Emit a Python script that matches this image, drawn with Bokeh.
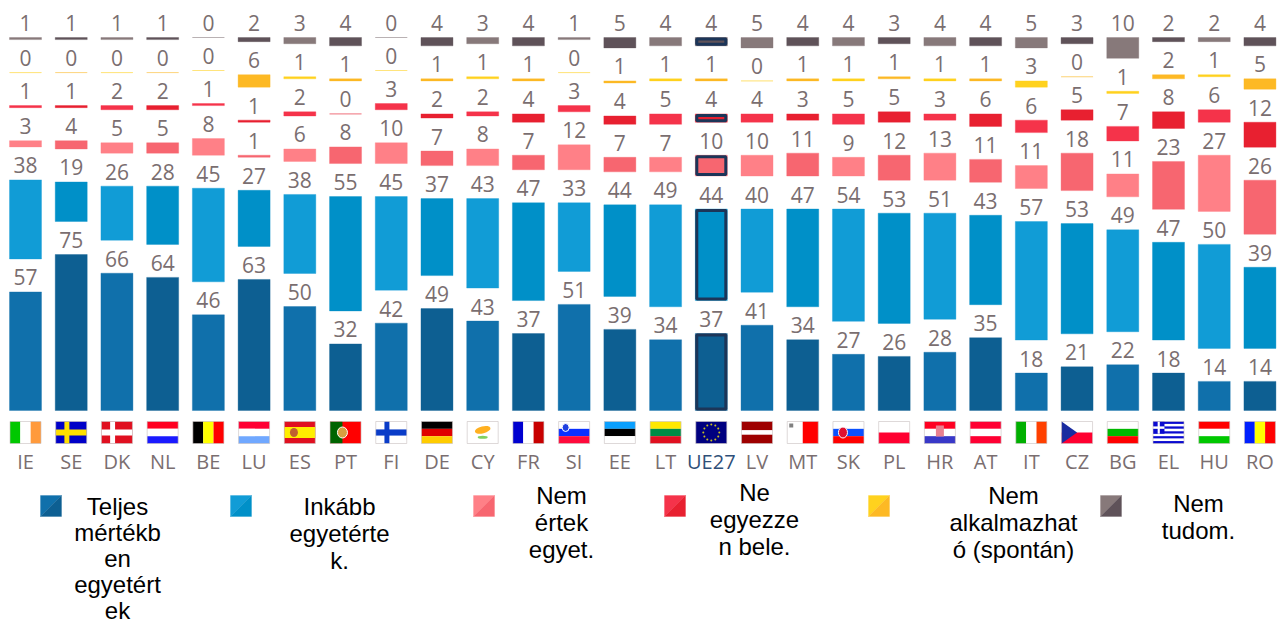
import numpy as np
from bokeh.plotting import figure
from bokeh.models import ColumnDataSource, Range1d
from bokeh.core.properties import value
from bokeh.embed import file_html
from bokeh.resources import INLINE

countries = ["IE","SE","DK","NL","BE","LU","ES","PT","FI","DE","CY","FR","SI","EE","LT","UE27",
             "LV","MT","SK","PL","HR","AT","IT","CZ","BG","EL","HU","RO"]
teljes   = [57,75,66,64,46,63,50,32,42,49,43,37,51,39,34,37,41,34,27,26,28,35,18,21,22,18,14,14]
inkabb   = [38,19,26,28,45,27,38,55,45,37,43,47,33,44,49,44,40,47,54,53,51,43,57,53,49,47,50,39]
nem_ert  = [3,4,5,5,8,1,6,8,10,7,8,7,12,7,7,10,10,11,9,12,13,11,11,18,11,23,27,26]
ne_egy   = [1,1,2,2,1,1,2,0,3,2,2,4,3,4,5,4,4,3,5,5,3,6,6,5,7,8,6,12]
nem_alk  = [0,0,0,0,0,6,1,1,0,1,1,1,0,1,1,1,0,1,1,1,1,1,3,0,1,2,1,5]
nem_tud  = [1,1,1,1,0,2,3,4,0,4,3,4,1,5,4,4,5,4,4,3,4,4,5,3,10,2,2,4]
series = [teljes, inkabb, nem_ert, ne_egy, nem_alk, nem_tud]
light = ["#1070ab","#119cd6","#ff8087","#f5334a","#ffd21e","#87797a"]
dark  = ["#0d5f92","#0090c8","#f76670","#e82030","#fdb924","#5f5259"]
legend_lines = [["Teljes","mértékb","en","egyetért","ek"],["Inkább","egyetérte","k."],
                ["Nem","értek","egyet."],["Ne","egyezze","n bele."],
                ["Nem","alkalmazhat","ó (spontán)"],["Nem","tudom."]]

W, H = 1277, 625
STEP, X0, BARW = 45.72, 25.0, 32.0     # pixels
UNIT, BASE, GAP = 2.08, 410.0, 33.0    # px per value unit, baseline px, px between stacked bars
gap_u = GAP / UNIT

p = figure(width=W, height=H, output_backend="svg", toolbar_location=None,
           x_range=Range1d(-X0 / STEP, (W - X0) / STEP),
           y_range=Range1d((BASE - H) / UNIT, BASE / UNIT),
           min_border=0, outline_line_color=None, background_fill_color="white",
           border_fill_color="white")
p.axis.visible = False
p.grid.visible = False
p.extra_x_ranges["px"] = Range1d(0, W)
p.extra_y_ranges["px"] = Range1d(H, 0)
PX = dict(x_range_name="px", y_range_name="px")

xs = np.arange(len(countries))
cum = np.zeros(len(countries))
FONT = value("Open Sans")
idx = countries.index("UE27")
for k, vals in enumerate(series):
    v = np.array(vals, float)
    bot = cum + k * gap_u
    top = bot + v
    cols = [light[k] if i % 2 == 0 else dark[k] for i in xs]
    src = ColumnDataSource(dict(x=xs, bot=bot, top=top, c=cols, lab=[str(a) for a in vals]))
    p.vbar(x="x", bottom="bot", top="top", width=BARW / STEP, source=src, fill_color="c",
           line_color="c", line_alpha=0.35, line_width=1)
    p.text(x="x", y="top", text="lab", source=src, text_font=FONT, text_font_size="21px",
           text_color="#7a6e70", text_align="center", text_baseline="alphabetic", y_offset=-14.5)
    if k != 4:
        ix, iy = 1.5 / STEP, 1.5 / UNIT
        p.quad(left=[idx - BARW / STEP / 2 + ix], right=[idx + BARW / STEP / 2 - ix],
               bottom=[bot[idx] + iy], top=[top[idx] - iy], fill_color=None,
               line_color="#1c3558", line_width=3)
    cum = cum + v

# ---- country codes
p.text(x=xs, y=[461] * len(xs), text=countries, text_font=FONT, text_font_size="20px",
       text_align="center", text_baseline="alphabetic",
       text_color=["#2f4f78" if c == "UE27" else "#7a6e70" for c in countries],
       y_range_name="px")

# ---- flags
FW, FH, FT = 31.0, 22.0, 421.0
def rect(x0, x1, y0, y1, c):
    p.quad(left=[x0], right=[x1], top=[y0], bottom=[y1], fill_color=c, line_color=None, **PX)

H3 = {"NL":["#ff0020","#ffffff","#1a1aff"],"LU":["#ff0033","#ffffff","#70a8ff"],
      "DE":["#000000","#e00000","#ffcc00"],"SI":["#ffffff","#0a30ff","#ff0a3c"],
      "EE":["#0aa0ff","#000000","#ffffff"],"LT":["#ffe800","#008c46","#e01020"],
      "SK":["#ffffff","#0a50ff","#ff0000"],"HR":["#ff0022","#ffffff","#3838c8"],
      "AT":["#ff0033","#ffffff","#ff0033"],"BG":["#ffffff","#00b800","#ff0000"],
      "HU":["#ff0000","#ffffff","#00c800"],"LV":["#9e0000","#ffffff","#9e0000"]}
V3 = {"IE":["#00c800","#ffffff","#ff9a3c"],"BE":["#000000","#ffff00","#ff0000"],
      "FR":["#0000d0","#ffffff","#c80000"],"IT":["#00b000","#ffffff","#ff4000"],
      "RO":["#0020ff","#ffff00","#ff0000"]}
for i, c in enumerate(countries):
    L = X0 + STEP * i - FW / 2
    R = L + FW
    T, B = FT, FT + FH
    rect(L, R, T, B, "#ffffff")
    if c in H3:
        cuts = [T, T + FH * .4, T + FH * .6, B] if c == "LV" else np.linspace(T, B, 4)
        for j, col in enumerate(H3[c]):
            rect(L, R, cuts[j], cuts[j + 1], col)
    elif c in V3:
        cuts = np.linspace(L, R, 4)
        for j, col in enumerate(V3[c]):
            rect(cuts[j], cuts[j + 1], T, B, col)
    elif c in ("SE", "DK", "FI"):
        bg, cr = {"SE": ("#0000c8", "#ffe000"), "DK": ("#e01020", "#ffffff"),
                  "FI": ("#ffffff", "#0a3cc8")}[c]
        rect(L, R, T, B, bg)
        rect(L + FW * .28, L + FW * .44, T, B, cr)
        rect(L, R, T + FH * .36, T + FH * .64, cr)
    elif c == "ES":
        rect(L, R, T, B, "#e01020")
        rect(L, R, T + FH * .25, T + FH * .75, "#ffee00")
        p.ellipse(x=[L + FW * .31], y=[T + FH * .5], width=8, height=9, fill_color="#c06030",
                  line_color=None, **PX)
    elif c == "PT":
        rect(L, R, T, B, "#ff0000")
        rect(L, L + FW * .4, T, B, "#006400")
        p.ellipse(x=[L + FW * .4], y=[T + FH * .5], width=10, height=11, fill_color="#d8a040",
                  line_color="#ffffff", line_width=1, **PX)
    elif c == "CY":
        p.ellipse(x=[L + FW * .5], y=[T + FH * .38], width=16, height=7, angle=0.25,
                  fill_color="#ffb020", line_color=None, **PX)
        p.ellipse(x=[L + FW * .5], y=[T + FH * .72], width=10, height=3, fill_color="#80d060",
                  line_color=None, **PX)
    elif c == "UE27":
        rect(L, R, T, B, "#000080")
        a = np.arange(12) * np.pi / 6
        p.scatter(x=L + FW / 2 + 8 * np.cos(a), y=T + FH / 2 + 8 * np.sin(a), marker="circle",
                  size=2, fill_color="#c8c020", line_color=None, **PX)
    elif c == "MT":
        rect(L + FW / 2, R, T, B, "#ff0000")
        rect(L + 2, L + 6, T + 2, T + 6, "#808080")
    elif c == "PL":
        rect(L, R, T + FH / 2, B, "#ff0030")
    elif c == "CZ":
        rect(L, R, T + FH / 2, B, "#ff0030")
        p.patch(x=[L, L + FW / 2, L], y=[T, T + FH / 2, B], fill_color="#1a2ca0", line_color=None, **PX)
    elif c == "EL":
        rows = np.linspace(T, B, 10)
        for j in range(9):
            rect(L, R, rows[j], rows[j + 1], "#0a0ad0" if j % 2 == 0 else "#ffffff")
        rect(L, L + FW * .37, T, rows[5], "#0a0ad0")
        rect(L + FW * .15, L + FW * .22, T, rows[5], "#ffffff")
        rect(L, L + FW * .37, rows[2], rows[3], "#ffffff")
    if c == "SI":
        p.ellipse(x=[L + 7], y=[T + 6], width=7, height=8, fill_color="#2040e0", line_color="#ffffff", **PX)
    if c == "SK":
        p.ellipse(x=[L + 10], y=[T + 11], width=9, height=11, fill_color="#e01030", line_color="#ffffff", **PX)
    if c == "HR":
        rect(L + FW / 2 - 4, L + FW / 2 + 4, T + 4, T + 15, "#e88090")
    p.quad(left=[L], right=[R], top=[T], bottom=[B], fill_color=None, line_color="#c8c0c0",
           line_alpha=0.6, line_width=1, **PX)

# ---- legend
sq_left = [40, 230, 473, 664, 868, 1100]
txt_cx = [117, 339, 561, 754, 1013, 1198]
baseline = [505.5, 505.5, 494.5, 491.5, 494.5, 502.5]
pitch = [26.0, 27.3, 27.3, 27.3, 27.3, 27.3]
S = 21
for k in range(6):
    x = sq_left[k]
    t = 495
    p.patch(x=[x, x + S, x], y=[t, t, t + S], fill_color=light[k], line_color=light[k], line_alpha=.3, **PX)
    p.patch(x=[x + S, x + S, x], y=[t, t + S, t + S], fill_color=dark[k], line_color=dark[k], line_alpha=.3, **PX)
    lines = legend_lines[k]
    p.text(x=[txt_cx[k]] * len(lines), y=[baseline[k] + j * pitch[k] for j in range(len(lines))],
           text=lines, text_font=value("Liberation Sans"), text_font_size="24px", text_color="#000000",
           text_align="center", text_baseline="alphabetic", **PX)

open("out.html", "w").write(file_html(p, INLINE))
